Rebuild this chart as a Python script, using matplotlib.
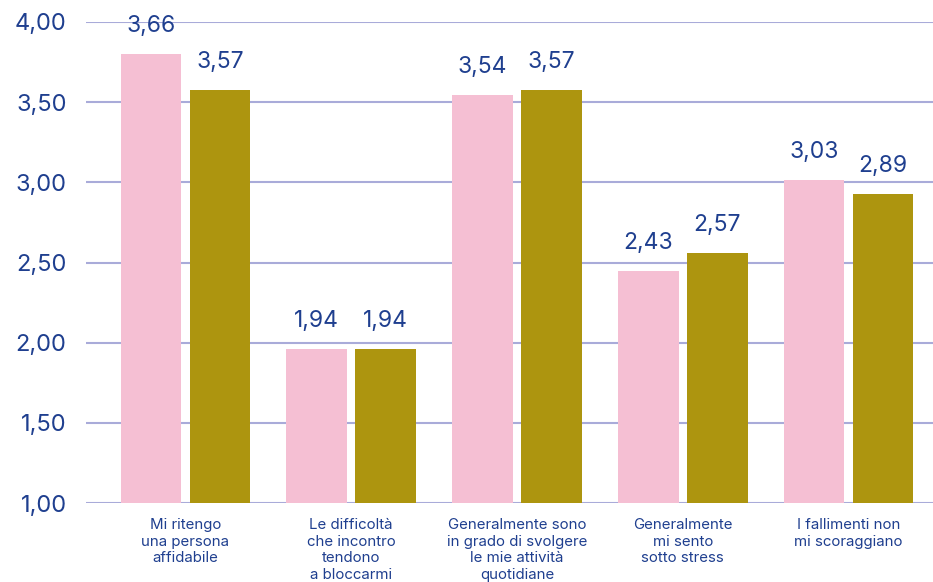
import matplotlib
matplotlib.use("Agg")
import matplotlib.pyplot as plt
import numpy as np

categories = [
    "Mi ritengo\nuna persona\naffidabile",
    "Le difficoltà\nche incontro\ntendono\na bloccarmi",
    "Generalmente sono\nin grado di svolgere\nle mie attività\nquotidiane",
    "Generalmente\nmi sento\nsotto stress",
    "I fallimenti non\nmi scoraggiano",
]
# bar heights as drawn in the picture
pink_values = [3.80, 1.96, 3.545, 2.45, 3.015]
olive_values = [3.575, 1.96, 3.575, 2.56, 2.93]
# value labels as printed above the bars
pink_labels = ["3,66", "1,94", "3,54", "2,43", "3,03"]
olive_labels = ["3,57", "1,94", "3,57", "2,57", "2,89"]
yticks = [1.0, 1.5, 2.0, 2.5, 3.0, 3.5, 4.0]

pink = "#f5bfd3"
olive = "#ad950f"
blue = "#1f3f8f"
grid = "#a9abd9"

plt.rcParams['font.family'] = ['Inter', 'DejaVu Sans']

fig = plt.figure(figsize=(9.33, 5.82), dpi=100)
ax = fig.add_axes([0.0922, 0.1357, 0.9078, 0.8265])

x = np.arange(len(categories))
w = 0.367
off = 0.208
b1 = ax.bar(x - off, pink_values, w, color=pink, zorder=3)
b2 = ax.bar(x + off, olive_values, w, color=olive, zorder=3)

for bars, labels in [(b1, pink_labels), (b2, olive_labels)]:
    for bar, lab in zip(bars, labels):
        ax.annotate(lab, (bar.get_x() + bar.get_width() / 2, bar.get_height()),
                    xytext=(0, 12), textcoords="offset points",
                    ha="center", va="bottom", fontsize=16.5, color=blue)

ax.set_ylim(1, 4)
ax.set_xlim(-0.6, 4.51)
ax.set_yticks(yticks)
ax.set_yticklabels([f"{v:.2f}".replace(".", ",") for v in yticks])
ax.set_xticks(x)
ax.set_xticklabels(categories, fontsize=10.8, color=blue, linespacing=1.22)
ax.tick_params(axis="y", length=0, pad=14, labelsize=17, labelcolor=blue)
ax.tick_params(axis="x", length=0, pad=11)
ax.yaxis.grid(True, color=grid, linewidth=1.5, zorder=0)
ax.set_axisbelow(True)
for s in ax.spines.values():
    s.set_visible(False)

fig.savefig("out.png", dpi=100)
